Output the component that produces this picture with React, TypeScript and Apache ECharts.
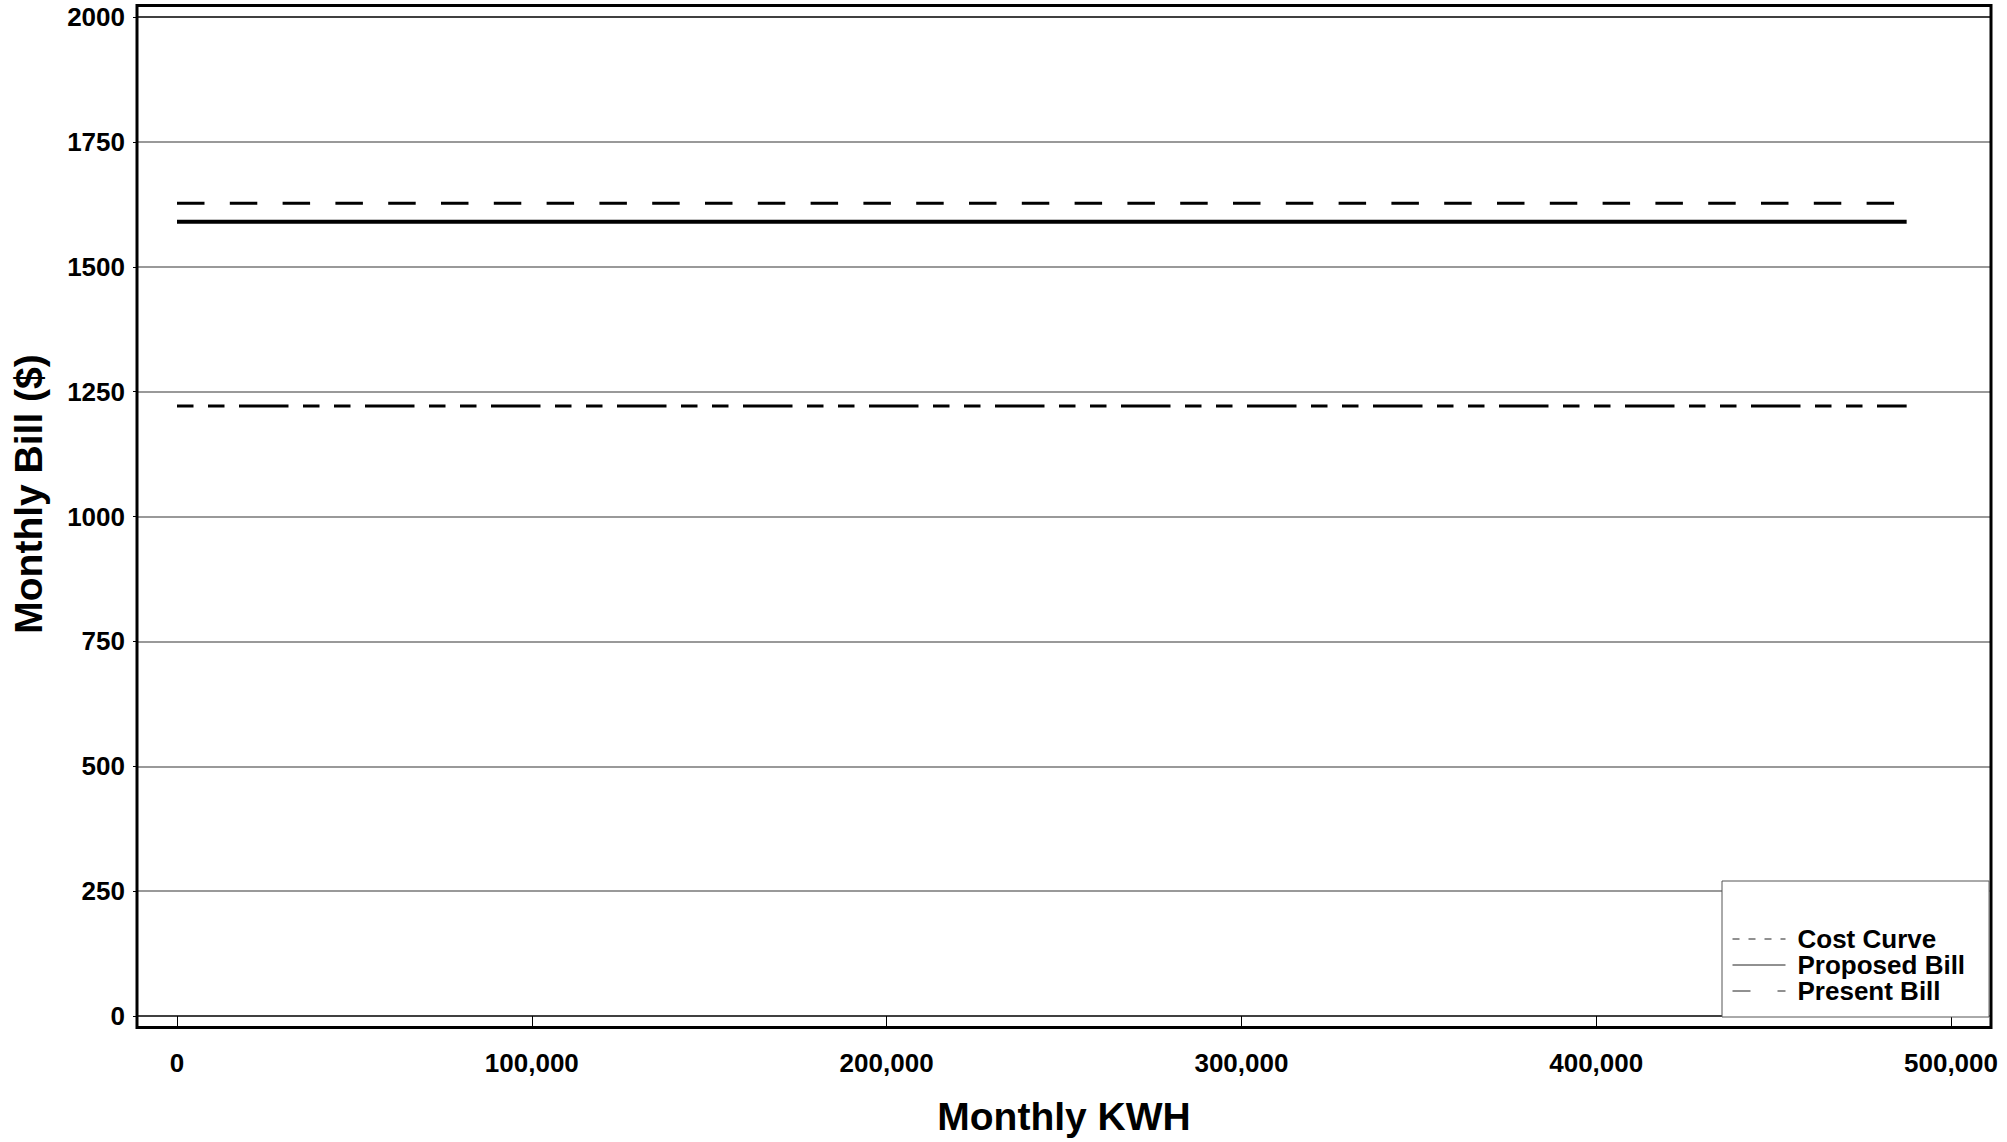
import React, { useEffect, useRef } from "react";
import * as echarts from "echarts";

// ---- Data ----
const seriesNames = ["Cost Curve", "Proposed Bill", "Present Bill"];
const monthlyKwh = [0, 487500];
const costCurve = [1627, 1627];
const proposedBill = [1590, 1590];
const presentBill = [1221, 1221];
const yTicks = [0, 250, 500, 750, 1000, 1250, 1500, 1750, 2000];
const xTicks = [0, 100000, 200000, 300000, 400000, 500000];

const FONT = "'Liberation Sans', Arial, Helvetica, sans-serif";

const pairs = (xs: number[], ys: number[]) => xs.map((x, i) => [x, ys[i]]);

export default function App() {
  const ref = useRef<HTMLDivElement>(null);

  useEffect(() => {
    if (!ref.current) return;
    const chart = echarts.init(ref.current, undefined, { renderer: "svg" });

    const splitColors = yTicks.map((v, i) =>
      i === 0 || i === yTicks.length - 1 ? "#000000" : "#777777"
    );

    const hiddenSymbol = { color: "rgba(0,0,0,0)", borderWidth: 0, opacity: 0 };

    const option: any = {
      animation: false,
      backgroundColor: "#ffffff",
      textStyle: { fontFamily: FONT },
      grid: [
        // full-width frame grid (gridlines + y labels)
        { left: 137, right: 16, top: 17, bottom: 126, containLabel: false },
        // data grid (x from 0 to 500,000)
        { left: 177, right: 56, top: 17, bottom: 126, containLabel: false },
      ],
      xAxis: [
        {
          type: "value",
          gridIndex: 0,
          min: 0,
          max: 1,
          show: false,
        },
        {
          type: "value",
          gridIndex: 1,
          min: xTicks[0],
          max: xTicks[xTicks.length - 1],
          interval: 100000,
          offset: 11,
          axisLine: { show: false },
          axisTick: {
            show: true,
            inside: false,
            length: 10,
            lineStyle: { color: "#000", width: 1 },
          },
          splitLine: { show: false },
          axisLabel: {
            margin: 23,
            fontSize: 26,
            fontWeight: "bold",
            fontFamily: FONT,
            color: "#000",
            formatter: (v: number) => v.toLocaleString("en-US"),
          },
          name: "Monthly KWH",
          nameLocation: "middle",
          nameGap: 70,
          nameTextStyle: {
            fontSize: 39,
            fontWeight: "bold",
            fontFamily: FONT,
            color: "#000",
          },
        },
      ],
      yAxis: [
        {
          type: "value",
          gridIndex: 0,
          min: yTicks[0],
          max: yTicks[yTicks.length - 1],
          interval: 250,
          axisLine: { show: false },
          axisTick: {
            show: true,
            inside: false,
            length: 4,
            lineStyle: { color: "#000", width: 1 },
          },
          axisLabel: {
            margin: 12,
            fontSize: 26,
            fontWeight: "bold",
            fontFamily: FONT,
            color: "#000",
            formatter: (v: number) => String(v),
          },
          splitLine: {
            show: true,
            lineStyle: { color: splitColors, width: 1.5 },
          },
        },
        {
          type: "value",
          gridIndex: 1,
          min: yTicks[0],
          max: yTicks[yTicks.length - 1],
          show: false,
          splitLine: { show: false },
        },
      ],
      legend: {
        orient: "vertical",
        left: 1722,
        top: 881,
        padding: [45, 24, 13, 10],
        backgroundColor: "#ffffff",
        borderColor: "#555555",
        borderWidth: 1,
        borderRadius: 0,
        itemWidth: 53,
        itemHeight: 14,
        itemGap: 0,
        selectedMode: false,
        textStyle: {
          fontSize: 26,
          fontWeight: "bold",
          fontFamily: FONT,
          color: "#000",
          lineHeight: 25.5,
          padding: [0, 0, 0, 7],
        },
        data: [
          {
            name: seriesNames[0],
            itemStyle: hiddenSymbol,
            lineStyle: { width: 1, color: "#222", type: [7, 9] },
          },
          {
            name: seriesNames[1],
            itemStyle: hiddenSymbol,
            lineStyle: { width: 1, color: "#222", type: "solid" },
          },
          {
            name: seriesNames[2],
            itemStyle: hiddenSymbol,
            lineStyle: { width: 1, color: "#222", type: [18, 27, 8, 100] },
          },
        ],
        z: 10,
      },
      graphic: [
        {
          type: "rect",
          shape: { x: 137, y: 5.5, width: 1854, height: 1022 },
          style: { fill: "none", stroke: "#000", lineWidth: 3 },
          silent: true,
          z: 5,
        },
        {
          type: "text",
          x: 28.5,
          y: 494,
          rotation: Math.PI / 2,
          style: {
            text: "Monthly Bill ($)",
            fontSize: 39,
            fontWeight: "bold",
            fontFamily: FONT,
            fill: "#000",
            textAlign: "center",
            textVerticalAlign: "middle",
          },
          silent: true,
        },
      ],
      series: [
        {
          name: seriesNames[0],
          type: "line",
          xAxisIndex: 1,
          yAxisIndex: 1,
          data: pairs(monthlyKwh, costCurve),
          showSymbol: false,
          symbol: "none",
          lineStyle: { color: "#000", width: 3, type: [27.5, 25.3], cap: "butt" },
          itemStyle: { color: "#000" },
          z: 3,
        },
        {
          name: seriesNames[1],
          type: "line",
          xAxisIndex: 1,
          yAxisIndex: 1,
          data: pairs(monthlyKwh, proposedBill),
          showSymbol: false,
          symbol: "none",
          lineStyle: { color: "#000", width: 4, type: "solid", cap: "butt" },
          itemStyle: { color: "#000" },
          z: 3,
        },
        {
          name: seriesNames[2],
          type: "line",
          xAxisIndex: 1,
          yAxisIndex: 1,
          data: pairs(monthlyKwh, presentBill),
          showSymbol: false,
          symbol: "none",
          lineStyle: {
            color: "#000",
            width: 3,
            type: [16.5, 14.5, 16.5, 14.5, 49.5, 14.5],
            cap: "butt",
          },
          itemStyle: { color: "#000" },
          z: 3,
        },
      ],
    };

    chart.setOption(option);
    return () => chart.dispose();
  }, []);

  return (
    <div
      ref={ref}
      style={{ position: "fixed", left: 0, top: 0, width: 2007, height: 1142 }}
    />
  );
}
